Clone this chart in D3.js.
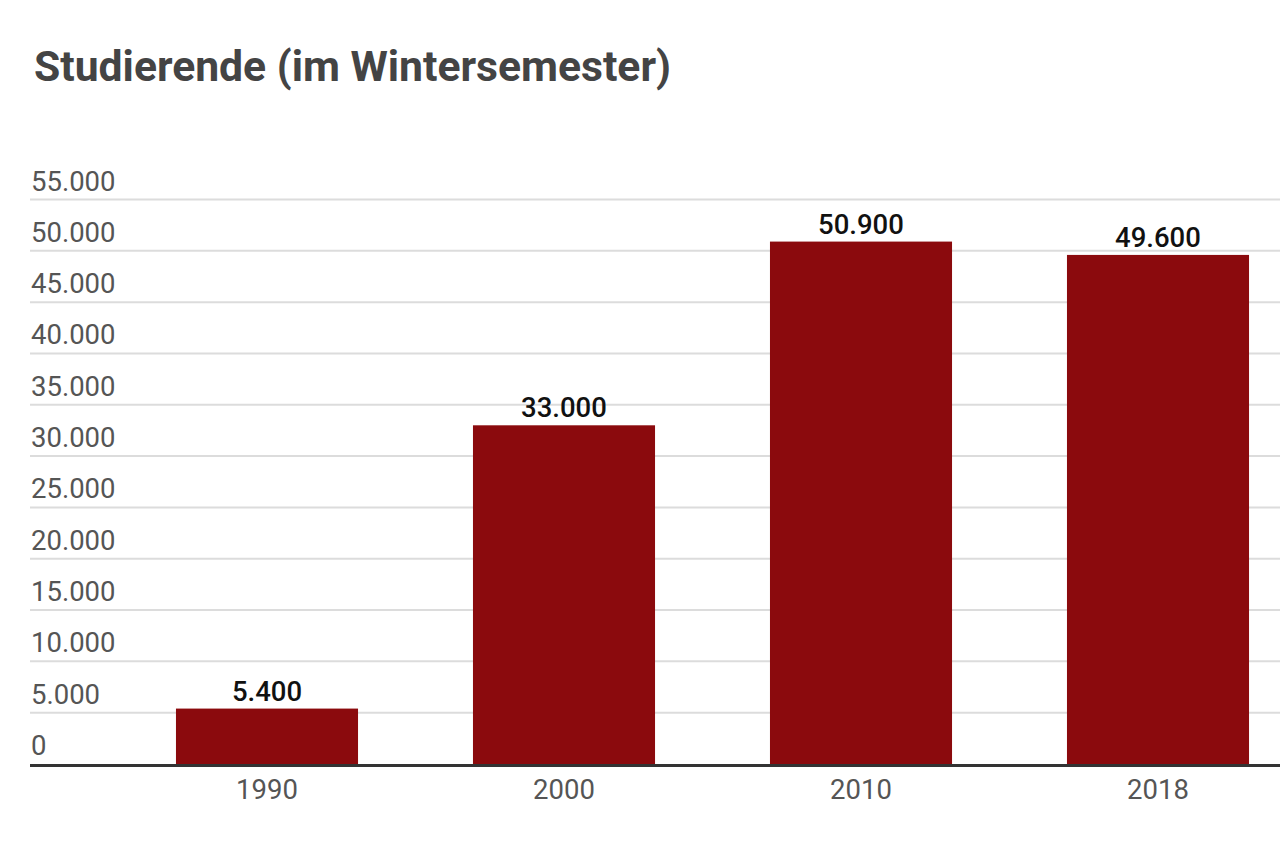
<!DOCTYPE html>
<html>
<head>
<meta charset="utf-8">
<script src="https://cdn.jsdelivr.net/npm/d3@7"></script>
<style>
  html, body { margin: 0; padding: 0; background: #fff; }
  svg { display: block; font-family: Roboto, "Noto Sans", sans-serif; }
</style>
</head>
<body>
<svg id="chart" width="1280" height="846"></svg>
<script>
const title = "Studierende (im Wintersemester)";
const categories = ["1990", "2000", "2010", "2018"];
const values = [5400, 33000, 50900, 49600];
const yTicks = [0, 5000, 10000, 15000, 20000, 25000, 30000, 35000, 40000, 45000, 50000, 55000];

const svg = d3.select("#chart");
const W = 1280;
const fmt = d => d3.format(",")(d).replace(/,/g, ".");

const y = d3.scaleLinear().domain([0, 55000]).range([764, 199.5]);
const x = d3.scaleBand().domain(categories).range([118.5, 1306.5])
  .paddingInner(0.387).paddingOuter(0.1935);

svg.append("text")
  .attr("x", 34).attr("y", 81)
  .attr("font-size", 42.5).attr("font-weight", 700)
  .attr("fill", "#444")
  .attr("textLength", 637).attr("lengthAdjust", "spacingAndGlyphs")
  .text(title);

// gridlines
svg.append("g").selectAll("line").data(yTicks.filter(d => d > 0)).join("line")
  .attr("x1", 30).attr("x2", W)
  .attr("y1", d => y(d)).attr("y2", d => y(d))
  .attr("stroke", "#dcdcdc").attr("stroke-width", 2);

// y labels
svg.append("g").selectAll("text").data(yTicks).join("text")
  .attr("x", 31).attr("y", d => y(d) - 9)
  .attr("font-size", 27.5).attr("fill", "#555")
  .text(d => fmt(d));

// bars
svg.append("g").selectAll("rect").data(values).join("rect")
  .attr("x", (d, i) => x(categories[i]))
  .attr("width", x.bandwidth())
  .attr("y", d => y(d))
  .attr("height", d => y(0) - y(d))
  .attr("fill", "#8b0a0d");

// value labels
svg.append("g").selectAll("text").data(values).join("text")
  .attr("x", (d, i) => x(categories[i]) + x.bandwidth() / 2)
  .attr("y", d => y(d) - 8)
  .attr("text-anchor", "middle")
  .attr("font-size", 27.5).attr("font-weight", 500).attr("fill", "#111")
  .text(d => fmt(d));

// baseline
svg.append("line")
  .attr("x1", 30).attr("x2", W)
  .attr("y1", y(0) + 1.5).attr("y2", y(0) + 1.5)
  .attr("stroke", "#333").attr("stroke-width", 3);

// x labels
svg.append("g").selectAll("text").data(categories).join("text")
  .attr("x", d => x(d) + x.bandwidth() / 2)
  .attr("y", 799)
  .attr("text-anchor", "middle")
  .attr("font-size", 27.5).attr("fill", "#555")
  .text(d => d);
</script>
</body>
</html>
